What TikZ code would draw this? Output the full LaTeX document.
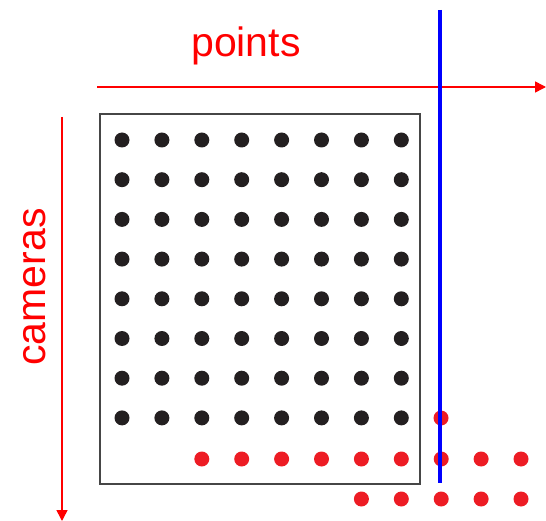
\documentclass[tikz,border=0pt]{standalone}
\usepackage{fontspec}
\setmainfont{Liberation Sans}
\usetikzlibrary{arrows.meta}
\definecolor{axisred}{RGB}{255, 0, 0}
\definecolor{dotred}{RGB}{237, 28, 36}
\definecolor{dotblack}{RGB}{35, 31, 32}
\definecolor{boxgray}{RGB}{70, 70, 70}
\definecolor{cutblue}{RGB}{0, 0, 255}
\tikzset{
  axislabel/.style={axisred, font=\fontsize{41}{41}\selectfont, inner sep=0pt},
  axisarrow/.style={axisred, line width=1.5pt, -{Triangle[length=11pt, width=11pt]}},
  olddot/.style={circle, fill=dotblack, inner sep=0pt, minimum size=15pt},
  newdot/.style={circle, fill=dotred, inner sep=0pt, minimum size=15pt}
}

\begin{document}
\begin{tikzpicture}[x=1pt, y=-1pt]
  \useasboundingbox (0,0) rectangle (546,521);

  % axes
  \coordinate (ptsstart) at (97,87);
  \coordinate (ptsend) at (546,87);
  \draw[axisarrow] (ptsstart) -- (ptsend);
  \node[axislabel, anchor=base] (ptslabel) at (246,57) {points};

  \coordinate (camstart) at (62,117);
  \coordinate (camend) at (62,521);
  \draw[axisarrow] (camstart) -- (camend);
  \node[axislabel, anchor=base, rotate=90] (camlabel) at (45,287) {cameras};

  % current block
  \draw[boxgray, line width=1.3pt] (100,114) rectangle (420,484);

  % known observations
  \foreach \r in {0,...,7} {
    \foreach \c in {0,...,7} {
      \node[olddot] (b-\r-\c) at (122+39.9*\c, 140+39.7*\r) {};
    }
  }

  % new observations
  \node[newdot] (n-7-8) at (441,418) {};
  \foreach \c in {2,...,10} {
    \node[newdot] (n-8-\c) at (122+39.9*\c, 459) {};
  }
  \foreach \c in {6,...,10} {
    \node[newdot] (n-9-\c) at (122+39.9*\c, 499) {};
  }

  % cut
  \coordinate (cuttop) at (440,10);
  \coordinate (cutbot) at (440,483);
  \draw[cutblue, line width=4pt] (cuttop) -- (cutbot);

\end{tikzpicture}
\end{document}
